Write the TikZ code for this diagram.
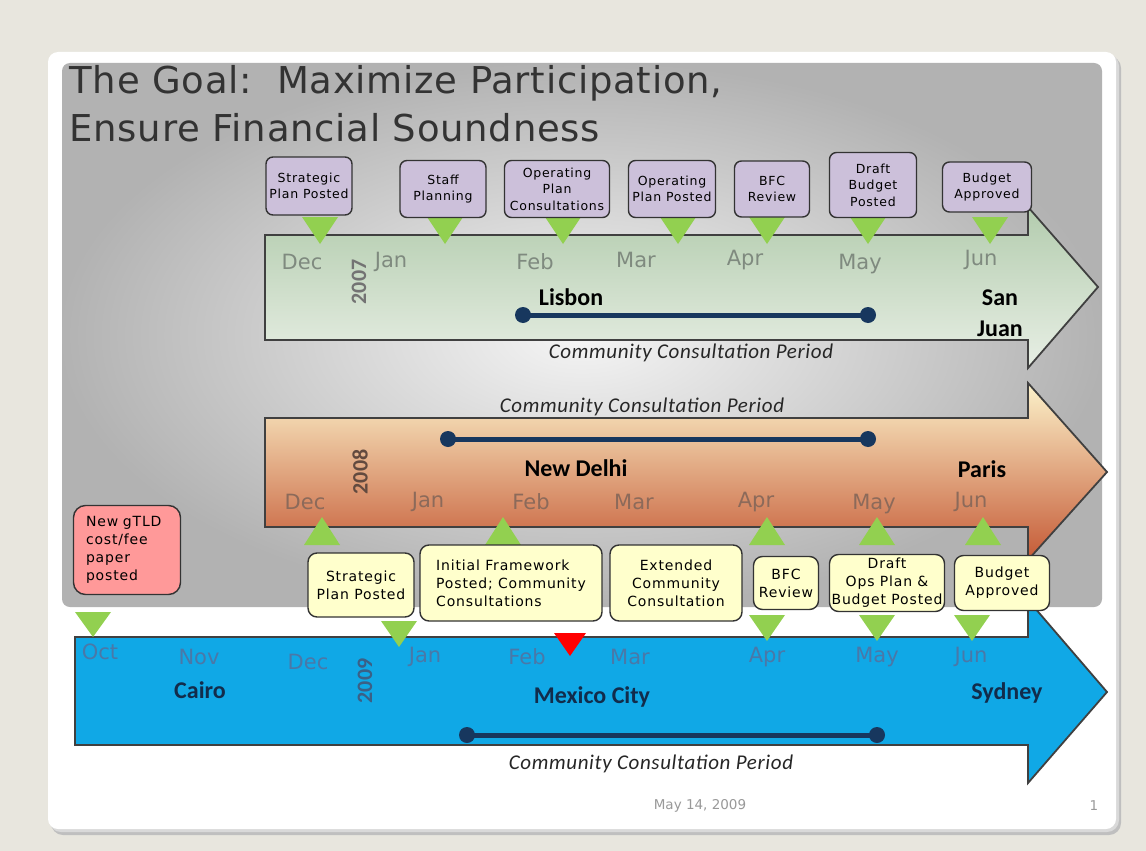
\documentclass[tikz,border=0pt]{standalone}
\usepackage{fontspec}
\setmainfont{DejaVu Sans}
\newfontfamily\calib{Carlito}
\newfontfamily\calibsp[LetterSpace=3]{Carlito}
\newfontfamily\titlefont[LetterSpace=2]{DejaVu Sans}
\newfontfamily\boxfont[LetterSpace=6]{DejaVu Sans}
\definecolor{bgbeige}{HTML}{E8E6DE}
\definecolor{trigreen}{HTML}{92D050}
\definecolor{boxpurple}{HTML}{CCC0DA}
\definecolor{boxyellow}{HTML}{FFFFCC}
\definecolor{boxpink}{HTML}{FF9999}
\definecolor{navy}{HTML}{17375E}
\definecolor{arrblue}{HTML}{10A8E6}
\definecolor{mgreen}{HTML}{7F8A7F}
\definecolor{mbrown}{HTML}{8C6A5A}
\definecolor{mblue}{HTML}{4A78A8}
\definecolor{g7top}{HTML}{B3CCAE}
\definecolor{g7mid}{HTML}{CFDECB}
\definecolor{g7bot}{HTML}{E8EFE5}
\definecolor{o8top}{HTML}{FCF2CA}
\definecolor{o8mid}{HTML}{E9BE96}
\definecolor{o8bot}{HTML}{C55A36}
\begin{document}
\begin{tikzpicture}[x=1pt,y=-1pt,
  month/.style={font=\fontsize{21}{21}\selectfont},
  city/.style={font=\calib\bfseries\fontsize{24}{24}\selectfont, text=black},
  ccp/.style={font=\calibsp\itshape\fontsize{21}{21}\selectfont, text=black!85},
  year/.style={rotate=90, font=\calib\bfseries\fontsize{22}{22}\selectfont},
  pbox/.style={draw=black!80, line width=1.4pt, rounded corners=7pt, fill=boxpurple, align=center, inner sep=1pt, font=\boxfont\fontsize{12.5}{16.5}\selectfont},
  ybox/.style={draw=black!80, line width=1.4pt, rounded corners=9pt, fill=boxyellow, align=center, inner sep=1pt, font=\boxfont\fontsize{14}{18}\selectfont},
  trig/.style={fill=trigreen},
  cline/.style={line width=5pt, draw=navy},
  dot/.style={circle, fill=navy, minimum size=16pt, inner sep=0pt},
  arrowline/.style={draw=black!75, line width=1.8pt, line join=miter},
]
\useasboundingbox (0,0) rectangle (1146,851);
% background and slide
\fill[bgbeige] (0,0) rectangle (1146,851);
\fill[black!25, rounded corners=12pt] (51,56) rectangle (1121,835);
\fill[black!15, rounded corners=12pt] (49,54) rectangle (1119,832);
\fill[white, rounded corners=10pt] (48,52) rectangle (1116,829);
% gray panel
\shade[rounded corners=8pt, inner color=white!96!black, outer color=black!30] (62,63) rectangle (1102,607);

% title
\node[anchor=base west, font=\titlefont\fontsize{37}{37}\selectfont, text=black!80] (t1) at (66,93) {The Goal:\ \ Maximize Participation,};
\node[anchor=base west, font=\titlefont\fontsize{37}{37}\selectfont, text=black!80] (t2) at (66,141) {Ensure Financial Soundness};

% ---------- 2007 arrow ----------
\shade[top color=g7top, middle color=g7mid, bottom color=g7bot]
  (265,235) -- (1028,235) -- (1028,207) -- (1098,287) -- (1028,368) -- (1028,340) -- (265,340) -- cycle;
\draw[arrowline] (265,235) -- (1028,235) -- (1028,207) -- (1098,287) -- (1028,368) -- (1028,340) -- (265,340) -- cycle;

% ---------- 2008 arrow ----------
\shade[top color=o8top, middle color=o8mid, bottom color=o8bot]
  (265,418) -- (1028,418) -- (1028,383) -- (1107,472) -- (1028,560) -- (1028,527) -- (265,527) -- cycle;
\draw[arrowline] (265,418) -- (1028,418) -- (1028,383) -- (1107,472) -- (1028,560) -- (1028,527) -- (265,527) -- cycle;

% ---------- 2009 arrow ----------
\fill[arrblue] (75,637) -- (1028,637) -- (1028,600) -- (1107,692) -- (1028,783) -- (1028,745) -- (75,745) -- cycle;
\draw[arrowline] (75,637) -- (1028,637) -- (1028,600) -- (1107,692) -- (1028,783) -- (1028,745) -- (75,745) -- cycle;

% ---------- 2007 content ----------
\foreach \xx in {320,445,563,678,767,868,990}
  \fill[trig] (\xx,217) ++(-18,0) -- ++(36,0) -- ++(-18,27) -- cycle;
\node[month, text=mgreen] (m7a) at (302,262) {Dec};
\node[month, text=mgreen] (m7b) at (391,262) {Jan};
\node[month, text=mgreen] (m7c) at (535,262) {Feb};
\node[month, text=mgreen] (m7d) at (636,260) {Mar};
\node[month, text=mgreen] (m7e) at (745,260) {Apr};
\node[month, text=mgreen] (m7f) at (860,264) {May};
\node[month, text=mgreen] (m7g) at (981,260) {Jun};
\node[year, text=black!55] (y7) at (359,282) {2007};
\node[city] (c7a) at (571,297) {Lisbon};
\node[city] (c7b) at (1000,298) {San};
\node[city] (c7c) at (1000,329) {Juan};
\node[dot] (d7a) at (523,315) {};
\node[dot] (d7b) at (868,315) {};
\draw[cline] (d7a.center) -- (d7b.center);
\node[ccp] (cc7) at (691,353) {Community Consultation Period};

\node[pbox, minimum width=86, minimum height=58] (p1) at (309,186) {Strategic\\Plan Posted};
\node[pbox, minimum width=86, minimum height=57] (p2) at (443,189) {Staff\\Planning};
\node[pbox, minimum width=105, minimum height=57] (p3) at (557,189) {Operating\\Plan\\Consultations};
\node[pbox, minimum width=87, minimum height=57] (p4) at (672,189) {Operating\\Plan Posted};
\node[pbox, minimum width=75, minimum height=56] (p5) at (772,189) {BFC\\Review};
\node[pbox, minimum width=87, minimum height=65] (p6) at (873,185) {Draft\\Budget\\Posted};
\node[pbox, minimum width=89, minimum height=50] (p7) at (987,187) {Budget\\Approved};

% ---------- 2008 content ----------
\node[ccp] (cc8) at (642,407) {Community Consultation Period};
\node[dot] (d8a) at (448,439) {};
\node[dot] (d8b) at (868,439) {};
\draw[cline] (d8a.center) -- (d8b.center);
\node[city] (c8a) at (576,468) {New Delhi};
\node[city] (c8b) at (982,469) {Paris};
\node[year, text=mbrown!70!black] (y8) at (360,472) {2008};
\node[month, text=mbrown] (m8a) at (305,502) {Dec};
\node[month, text=mbrown] (m8b) at (428,502) {Jan};
\node[month, text=mbrown] (m8c) at (531,502) {Feb};
\node[month, text=mbrown] (m8d) at (634,502) {Mar};
\node[month, text=mbrown] (m8e) at (756,502) {Apr};
\node[month, text=mbrown] (m8f) at (874,504) {May};
\node[month, text=mbrown] (m8g) at (971,502) {Jun};
\foreach \xx in {322,503,767,877,983}
  \fill[trig] (\xx,545) ++(-18,0) -- ++(36,0) -- ++(-18,-28) -- cycle;

% ---------- 2009 content ----------
\node[ybox, fill=boxpink, minimum width=107, minimum height=89, align=left, rounded corners=12pt, text width=82] (n0) at (127,550) {New gTLD\\cost/fee\\paper\\posted};
\node[ybox, minimum width=106, minimum height=64] (q1) at (361,585) {Strategic\\Plan Posted};
\node[ybox, minimum width=182, minimum height=76, align=left] (q2) at (511,583) {Initial Framework\\Posted; Community\\Consultations};
\node[ybox, minimum width=132, minimum height=76] (q3) at (676,583) {Extended\\Community\\Consultation};
\node[ybox, minimum width=65, minimum height=53] (q4) at (786,583) {BFC\\Review};
\node[ybox, minimum width=115, minimum height=57] (q5) at (887,583) {Draft\\Ops Plan \&\\Budget Posted};
\node[ybox, minimum width=95, minimum height=55] (q6) at (1002,583) {Budget\\Approved};

\fill[trig] (93,612) ++(-18,0) -- ++(36,0) -- ++(-18,25) -- cycle;
\fill[trig] (399,621) ++(-18,0) -- ++(36,0) -- ++(-18,26) -- cycle;
\foreach \xx in {767,877,972}
  \fill[trig] (\xx,615) ++(-18,0) -- ++(36,0) -- ++(-18,26) -- cycle;
\fill[red] (570,633) ++(-16,0) -- ++(32,0) -- ++(-16,23) -- cycle;

\node[month, text=mblue] (m9a) at (100,652) {Oct};
\node[month, text=mblue] (m9b) at (199,657) {Nov};
\node[month, text=mblue] (m9c) at (308,662) {Dec};
\node[month, text=mblue] (m9d) at (425,657) {Jan};
\node[month, text=mblue] (m9e) at (527,657) {Feb};
\node[month, text=mblue] (m9f) at (630,657) {Mar};
\node[month, text=mblue] (m9g) at (767,657) {Apr};
\node[month, text=mblue] (m9h) at (877,657) {May};
\node[month, text=mblue] (m9i) at (971,657) {Jun};
\node[year, text=mblue!80!black] (y9) at (365,681) {2009};
\node[city, text=navy!80!black] (c9a) at (200,690) {Cairo};
\node[city, text=navy!80!black] (c9b) at (592,697) {Mexico City};
\node[city, text=navy!80!black] (c9c) at (1007,693) {Sydney};
\node[dot] (d9a) at (467,735) {};
\node[dot] (d9b) at (877,735) {};
\draw[cline] (d9a.center) -- (d9b.center);
\node[ccp] (cc9) at (651,764) {Community Consultation Period};

% footer
\node[font=\fontsize{13.5}{13.5}\selectfont, text=black!40] (f1) at (700,806) {May 14, 2009};
\node[font=\fontsize{13.5}{13.5}\selectfont, text=black!40] (f2) at (1094,806) {1};
\end{tikzpicture}
\end{document}
